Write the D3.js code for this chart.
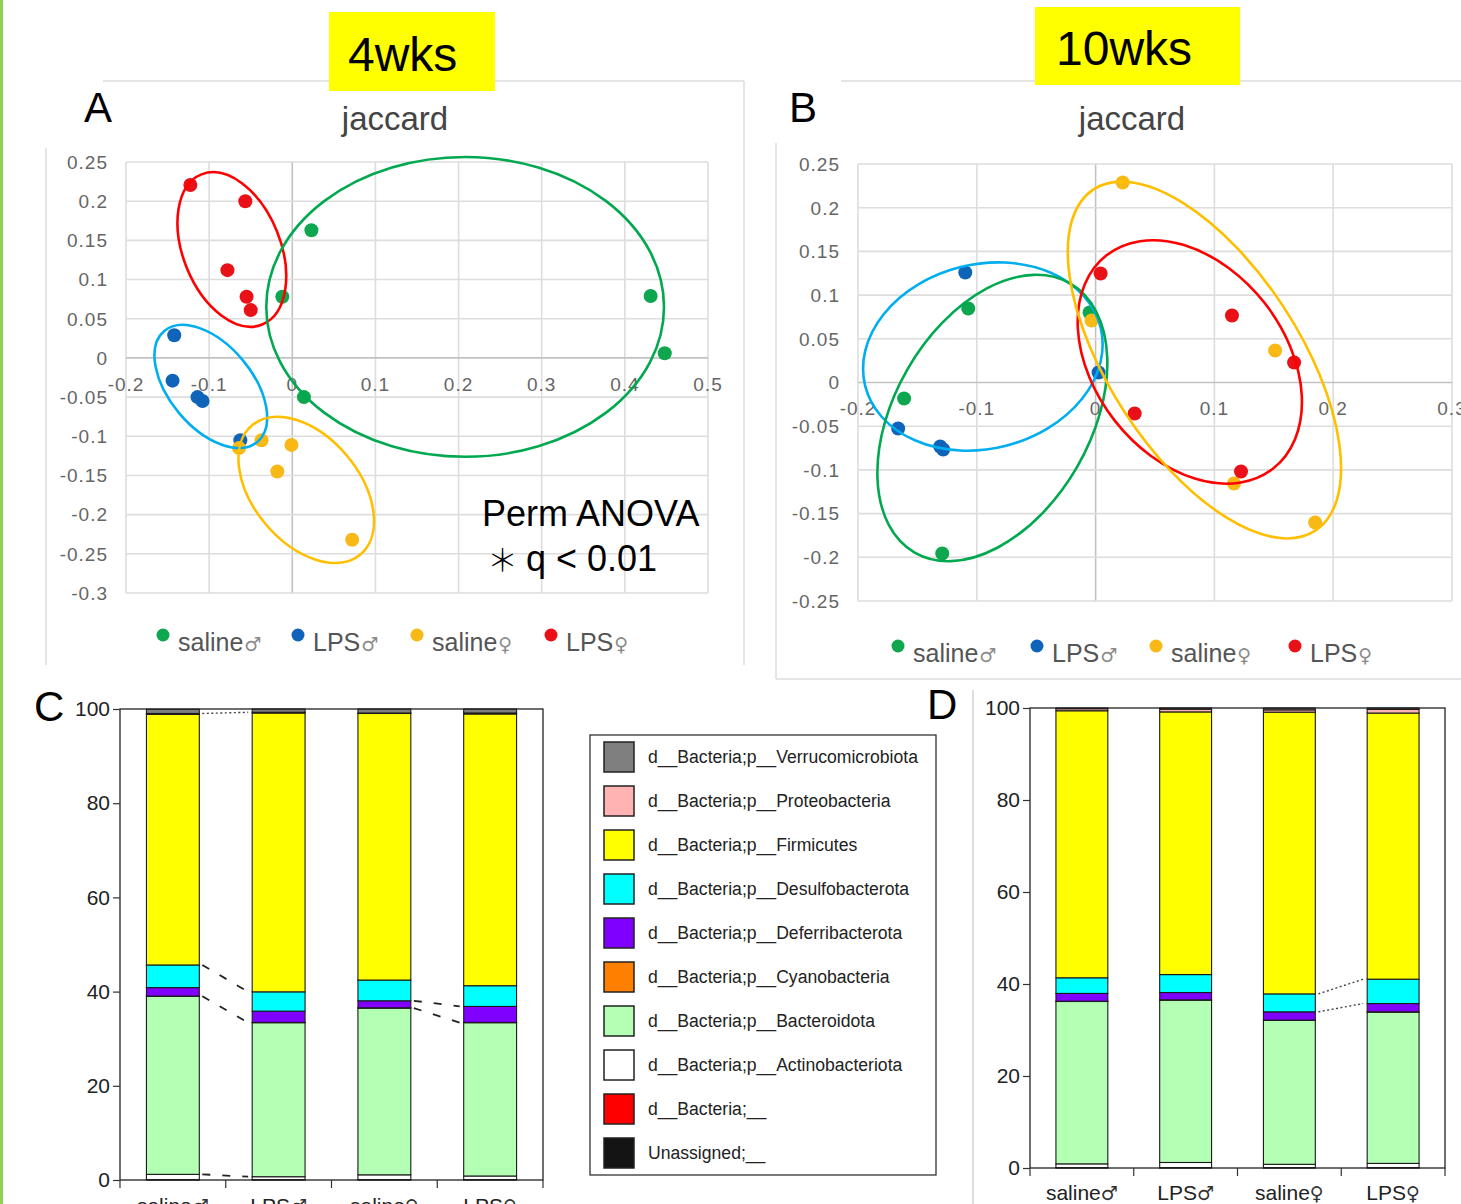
<!DOCTYPE html>
<html><head><meta charset="utf-8">
<script src="https://cdn.jsdelivr.net/npm/d3@7"></script>
<style>
body{margin:0;background:#fff;}
svg{display:block;font-family:"Liberation Sans",Arial,sans-serif;}
</style>
</head><body>
<svg id="fig" width="1461" height="1204"></svg>
<script>
// ================= DATA =================
const groups = ["saline♂", "LPS♂", "saline♀", "LPS♀"];
const groupNames = ["saline", "LPS", "saline", "LPS"];
const groupSymbols = ["♂", "♂", "♀", "♀"];

// PCoA (jaccard) 4 weeks: [PC1, PC2]
const wk4SalineM = [[0.023, 0.163], [-0.012, 0.078], [0.431, 0.079], [0.448, 0.006], [0.014, -0.050]];
const wk4LpsM    = [[-0.142, 0.029], [-0.144, -0.029], [-0.114, -0.050], [-0.108, -0.055], [-0.0625, -0.105]];
const wk4SalineF = [[-0.064, -0.115], [-0.037, -0.105], [-0.001, -0.111], [-0.018, -0.145], [0.072, -0.232]];
const wk4LpsF    = [[-0.1226, 0.2207], [-0.0565, 0.200], [-0.078, 0.112], [-0.055, 0.078], [-0.050, 0.061]];

// PCoA (jaccard) 10 weeks
const wk10SalineM = [[-0.1072, 0.0847], [-0.1612, -0.0183], [-0.1291, -0.1957], [-0.0051, 0.0801]];
const wk10LpsM    = [[-0.1097, 0.1259], [-0.1662, -0.0526], [-0.1308, -0.0732], [-0.1283, -0.0767], [0.0025, 0.0114]];
const wk10SalineF = [[0.0228, 0.2288], [-0.0034, 0.0709], [0.1511, 0.0366], [0.1165, -0.1156], [0.1848, -0.1602]];
const wk10LpsF    = [[0.0042, 0.1247], [0.1148, 0.0767], [0.1671, 0.0229], [0.0329, -0.0355], [0.1224, -0.1018]];

// hand-drawn group ellipses: group index, centre (data), semi-axes (x-data units), rotation (deg)
const wk4Ellipses = [
  {group: 3, cx: -0.0727, cy: 0.1384, a: 0.0974, b: 0.0585, angle: 68},
  {group: 0, cx: 0.2079, cy: 0.0651, a: 0.2392, b: 0.1803, angle: 0},
  {group: 1, cx: -0.0980, cy: -0.0364, a: 0.0871, b: 0.0498, angle: 50},
  {group: 2, cx: 0.0168, cy: -0.1684, a: 0.1014, b: 0.0639, angle: 50}
];
const wk10Ellipses = [
  {group: 1, cx: -0.0949, cy: 0.0297, a: 0.1021, b: 0.0776, angle: -14},
  {group: 0, cx: -0.0869, cy: -0.0406, a: 0.1308, b: 0.0824, angle: -60},
  {group: 3, cx: 0.0793, cy: 0.0235, a: 0.1139, b: 0.0802, angle: 52},
  {group: 2, cx: 0.0916, cy: 0.0257, a: 0.1713, b: 0.0802, angle: 57}
];

// scatter tick labels
const wk4XTicks = [-0.2, -0.1, 0, 0.1, 0.2, 0.3, 0.4, 0.5];
const wk4XTickLabels = ["-0.2", "-0.1", "0", "0.1", "0.2", "0.3", "0.4", "0.5"];
const wk4YTicks = [0.25, 0.2, 0.15, 0.1, 0.05, 0, -0.05, -0.1, -0.15, -0.2, -0.25, -0.3];
const wk4YTickLabels = ["0.25", "0.2", "0.15", "0.1", "0.05", "0", "-0.05", "-0.1", "-0.15", "-0.2", "-0.25", "-0.3"];
const wk10XTicks = [-0.2, -0.1, 0, 0.1, 0.2, 0.3];
const wk10XTickLabels = ["-0.2", "-0.1", "0", "0.1", "0.2", "0.3"];
const wk10YTicks = [0.25, 0.2, 0.15, 0.1, 0.05, 0, -0.05, -0.1, -0.15, -0.2, -0.25];
const wk10YTickLabels = ["0.25", "0.2", "0.15", "0.1", "0.05", "0", "-0.05", "-0.1", "-0.15", "-0.2", "-0.25"];

// Taxa (legend order, top to bottom)
const taxa = [
  "d__Bacteria;p__Verrucomicrobiota", "d__Bacteria;p__Proteobacteria", "d__Bacteria;p__Firmicutes",
  "d__Bacteria;p__Desulfobacterota", "d__Bacteria;p__Deferribacterota", "d__Bacteria;p__Cyanobacteria",
  "d__Bacteria;p__Bacteroidota", "d__Bacteria;p__Actinobacteriota", "d__Bacteria;__", "Unassigned;__"
];
// relative abundance (%) per taxon, per group — 4 weeks (C)
const wk4Verruco      = [0.9, 0.7, 0.85, 0.85];
const wk4Proteo       = [0.2, 0.15, 0.1, 0.2];
const wk4Firmicutes   = [53.2, 59.2, 56.6, 57.7];
const wk4Desulfo      = [4.8, 4.1, 4.4, 4.4];
const wk4Deferri      = [1.8, 2.4, 1.5, 3.4];
const wk4Cyano        = [0.05, 0.05, 0.05, 0.05];
const wk4Bacteroidota = [37.8, 32.7, 35.4, 32.55];
const wk4Actino       = [1.1, 0.6, 1.0, 0.75];
const wk4Bacteria     = [0.05, 0.05, 0.05, 0.05];
const wk4Unassigned   = [0.05, 0.05, 0.05, 0.05];
// 10 weeks (D)
const wk10Verruco      = [0.15, 0.25, 0.4, 0.3];
const wk10Proteo       = [0.45, 0.6, 0.5, 0.8];
const wk10Firmicutes   = [58.05, 57.1, 61.25, 57.85];
const wk10Desulfo      = [3.4, 3.9, 3.9, 5.3];
const wk10Deferri      = [1.7, 1.6, 1.8, 1.8];
const wk10Cyano        = [0.05, 0.05, 0.05, 0.05];
const wk10Bacteroidota = [35.3, 35.3, 31.3, 32.9];
const wk10Actino       = [0.8, 1.1, 0.7, 0.9];
const wk10Bacteria     = [0.05, 0.05, 0.05, 0.05];
const wk10Unassigned   = [0.05, 0.05, 0.05, 0.05];

const barTicks = [0, 20, 40, 60, 80, 100];

// connector lines between neighbouring bars (top of a taxon segment)
const wk4Links = [
  {from: 0, to: 1, taxon: "d__Bacteria;p__Proteobacteria", style: "dot"},
  {from: 0, to: 1, taxon: "d__Bacteria;p__Desulfobacterota", style: "dash"},
  {from: 0, to: 1, taxon: "d__Bacteria;p__Bacteroidota", style: "dash"},
  {from: 0, to: 1, taxon: "d__Bacteria;p__Actinobacteriota", style: "dash"},
  {from: 2, to: 3, taxon: "d__Bacteria;p__Deferribacterota", style: "dash"},
  {from: 2, to: 3, taxon: "d__Bacteria;p__Bacteroidota", style: "dash"}
];
const wk10Links = [
  {from: 2, to: 3, taxon: "d__Bacteria;p__Desulfobacterota", style: "dot"},
  {from: 2, to: 3, taxon: "d__Bacteria;p__Deferribacterota", style: "dot"}
];

// ================= STYLE =================
const dotColors = ["#0ea64e", "#0f64b9", "#f8b916", "#ea1017"];
const ringColors = ["#00a84f", "#00aeef", "#ffbf00", "#ff0000"];
const taxaColors = ["#7f7f7f", "#ffb3b3", "#ffff00", "#00ffff", "#7f00ff", "#ff8000", "#b3ffb3", "#ffffff", "#ff0000", "#141414"];
const symbolFont = "DejaVu Sans, sans-serif";

const svg = d3.select("#fig");
svg.append("rect").attr("width", 1461).attr("height", 1204).attr("fill", "#fff");
svg.append("rect").attr("x", 0).attr("y", 0).attr("width", 3).attr("height", 1204).attr("fill", "#92d050");

// ================= SCATTER =================
function scatter(o) {
  const g = svg.append("g");
  o.frame.forEach(f => g.append("line").attr("x1", f[0]).attr("y1", f[1]).attr("x2", f[2]).attr("y2", f[3])
    .attr("stroke", "#dcdcdc").attr("stroke-width", 1.5));
  const x = d3.scaleLinear().domain(o.xDomain).range(o.xRange);
  const y = d3.scaleLinear().domain(o.yDomain).range(o.yRange);
  const [x0, x1] = o.xRange, [y0, y1] = o.yRange;
  g.selectAll("line.gx").data(o.xTicks).join("line").attr("class", "gx")
    .attr("x1", d => x(d)).attr("x2", d => x(d)).attr("y1", y1).attr("y2", y0)
    .attr("stroke", d => d === 0 ? "#c2c2c2" : "#dddddd").attr("stroke-width", 1.6);
  g.selectAll("line.gy").data(o.yTicks).join("line").attr("class", "gy")
    .attr("x1", x0).attr("x2", x1).attr("y1", d => y(d)).attr("y2", d => y(d))
    .attr("stroke", d => d === 0 ? "#c2c2c2" : "#dddddd").attr("stroke-width", 1.6);
  g.selectAll("text.ly").data(o.yTicks).join("text").attr("class", "ly")
    .attr("x", x0 - 18).attr("y", d => y(d)).attr("dy", "0.36em").attr("text-anchor", "end")
    .attr("font-size", 19).attr("letter-spacing", 1).attr("fill", "#666").text((d, i) => o.yLabels[i]);
  g.selectAll("text.lx").data(o.xTicks).join("text").attr("class", "lx")
    .attr("x", d => x(d)).attr("y", y(0) + o.xLabelDy).attr("dy", "0.36em").attr("text-anchor", "middle")
    .attr("font-size", 19).attr("letter-spacing", 1).attr("fill", "#666").text((d, i) => o.xLabels[i]);
  o.series.forEach((s, si) => {
    g.selectAll(null).data(s).join("circle")
      .attr("cx", d => x(d[0])).attr("cy", d => y(d[1])).attr("r", 7).attr("fill", dotColors[si]);
  });
  const unit = x(1) - x(0);
  o.ellipses.forEach(e => {
    const cx = x(e.cx), cy = y(e.cy);
    g.append("ellipse").attr("cx", cx).attr("cy", cy).attr("rx", e.a * unit).attr("ry", e.b * unit)
      .attr("transform", `rotate(${e.angle},${cx},${cy})`)
      .attr("fill", "none").attr("stroke", ringColors[e.group]).attr("stroke-width", 2.6);
  });
  g.append("text").attr("x", o.titleX).attr("y", o.titleY).attr("text-anchor", "middle")
    .attr("font-size", 33).attr("fill", "#444").text("jaccard");
  groups.forEach((gr, i) => {
    g.append("circle").attr("cx", o.legendX[i]).attr("cy", o.legendY - 16).attr("r", 6.5).attr("fill", dotColors[i]);
    const t = g.append("text").attr("x", o.legendX[i] + 15).attr("y", o.legendY).attr("font-size", 25).attr("fill", "#555");
    t.append("tspan").text(groupNames[i]);
    t.append("tspan").attr("font-size", 19).attr("font-family", symbolFont).attr("fill", "#8a8a8a")
      .attr("dx", 1).text(groupSymbols[i]);
  });
  return {x, y};
}

scatter({
  frame: [[103, 81, 744, 81], [744, 81, 744, 665], [46, 148, 46, 665]],
  xDomain: [-0.2, 0.5], xRange: [126, 708], yDomain: [-0.3, 0.25], yRange: [593, 162],
  xTicks: wk4XTicks, xLabels: wk4XTickLabels, yTicks: wk4YTicks, yLabels: wk4YTickLabels, xLabelDy: 26,
  series: [wk4SalineM, wk4LpsM, wk4SalineF, wk4LpsF], ellipses: wk4Ellipses,
  titleX: 395, titleY: 130, legendX: [163, 298, 417, 551], legendY: 651
});
scatter({
  frame: [[841, 81, 1461, 81], [776, 143, 776, 679], [776, 679, 1461, 679]],
  xDomain: [-0.2, 0.3], xRange: [858, 1452], yDomain: [-0.25, 0.25], yRange: [601, 164],
  xTicks: wk10XTicks, xLabels: wk10XTickLabels, yTicks: wk10YTicks, yLabels: wk10YTickLabels, xLabelDy: 26,
  series: [wk10SalineM, wk10LpsM, wk10SalineF, wk10LpsF], ellipses: wk10Ellipses,
  titleX: 1132, titleY: 130, legendX: [898, 1037, 1156, 1295], legendY: 662
});

// header boxes and panel letters
svg.append("rect").attr("x", 329).attr("y", 12).attr("width", 166).attr("height", 79).attr("fill", "#ffff00");
svg.append("text").attr("x", 348).attr("y", 71).attr("font-size", 48).attr("fill", "#000").text("4wks");
svg.append("rect").attr("x", 1035).attr("y", 7).attr("width", 205).attr("height", 78).attr("fill", "#ffff00");
svg.append("text").attr("x", 1056).attr("y", 65).attr("font-size", 48).attr("fill", "#000").text("10wks");
[["A", 84, 122], ["B", 789, 122], ["C", 34, 721], ["D", 927, 719]].forEach(p =>
  svg.append("text").attr("x", p[1]).attr("y", p[2]).attr("font-size", 42).attr("fill", "#000").text(p[0]));
svg.append("text").attr("x", 482).attr("y", 526).attr("font-size", 36).attr("fill", "#000").text("Perm ANOVA");
const sig = svg.append("text").attr("x", 487).attr("y", 571).attr("font-size", 36).attr("fill", "#000");
sig.append("tspan").attr("font-family", "Noto Sans CJK JP, sans-serif").attr("font-size", 31).attr("font-weight", 300).text("＊");
sig.append("tspan").attr("dx", 8).text("q < 0.01");

// separator
svg.append("line").attr("x1", 973).attr("y1", 690).attr("x2", 973).attr("y2", 1204).attr("stroke", "#d4d4d4").attr("stroke-width", 1.5);

// ================= STACKED BARS =================
const stackOrder = taxa.slice().reverse();
function bars(o) {
  const g = svg.append("g");
  const x = d3.scaleBand().domain(groups).range(o.xRange).paddingInner(0.5).paddingOuter(0.25);
  const y = d3.scaleLinear().domain([0, 100]).range(o.yRange);
  const table = groups.map((gr, i) => {
    const r = {group: gr};
    taxa.forEach((t, k) => r[t] = o.values[k][i]);
    return r;
  });
  const series = d3.stack().keys(stackOrder)(table);
  const colorOf = t => taxaColors[taxa.indexOf(t)];
  series.forEach(s => {
    g.selectAll(null).data(s).join("rect")
      .attr("x", d => x(d.data.group)).attr("width", x.bandwidth())
      .attr("y", d => y(d[1])).attr("height", d => Math.max(0, y(d[0]) - y(d[1])))
      .attr("fill", colorOf(s.key)).attr("stroke", "#1a1a1a").attr("stroke-width", 1.1);
  });
  o.links.forEach(l => {
    const s = series.find(z => z.key === l.taxon);
    const v0 = s[l.from][1], v1 = s[l.to][1];
    g.append("line")
      .attr("x1", x(groups[l.from]) + x.bandwidth() + 3).attr("y1", y(v0))
      .attr("x2", x(groups[l.to]) - 4).attr("y2", y(v1))
      .attr("stroke", l.style === "dot" ? "#444" : "#222")
      .attr("stroke-width", l.style === "dot" ? 1.4 : 1.8)
      .attr("stroke-dasharray", l.style === "dot" ? "2,2.5" : "8,12");
  });
  g.append("rect").attr("x", o.xRange[0]).attr("y", o.yRange[1])
    .attr("width", o.xRange[1] - o.xRange[0]).attr("height", o.yRange[0] - o.yRange[1])
    .attr("fill", "none").attr("stroke", "#222").attr("stroke-width", 1.3);
  const ax = g.append("g").attr("transform", `translate(${o.xRange[0]},0)`)
    .call(d3.axisLeft(y).tickValues(barTicks).tickSize(7).tickPadding(3));
  ax.select(".domain").remove();
  ax.selectAll("line").attr("stroke", "#333").attr("stroke-width", 1.2);
  ax.selectAll("text").attr("font-size", 21).attr("fill", "#222").attr("font-family", "Liberation Sans, Arial, sans-serif");
  const bounds = d3.range(groups.length + 1).map(k => o.xRange[0] + k * x.step());
  g.selectAll(null).data(bounds).join("line")
    .attr("x1", d => d).attr("x2", d => d).attr("y1", o.yRange[0]).attr("y2", o.yRange[0] + 8)
    .attr("stroke", "#333").attr("stroke-width", 1.2);
  groups.forEach((gr, i) => {
    const t = g.append("text").attr("x", x(gr) + x.bandwidth() / 2).attr("y", o.labelY)
      .attr("text-anchor", "middle").attr("font-size", 21).attr("fill", "#222");
    t.append("tspan").text(groupNames[i]);
    t.append("tspan").attr("font-family", symbolFont).attr("font-size", 19).attr("fill", "#333").text(groupSymbols[i]);
  });
}

bars({
  xRange: [120, 543], yRange: [1180, 709], labelY: 1213, links: wk4Links,
  values: [wk4Verruco, wk4Proteo, wk4Firmicutes, wk4Desulfo, wk4Deferri, wk4Cyano, wk4Bacteroidota, wk4Actino, wk4Bacteria, wk4Unassigned]
});
bars({
  xRange: [1030, 1445], yRange: [1168, 708], labelY: 1200, links: wk10Links,
  values: [wk10Verruco, wk10Proteo, wk10Firmicutes, wk10Desulfo, wk10Deferri, wk10Cyano, wk10Bacteroidota, wk10Actino, wk10Bacteria, wk10Unassigned]
});

// ================= TAXA LEGEND =================
const lg = svg.append("g");
lg.append("rect").attr("x", 590).attr("y", 735).attr("width", 346).attr("height", 440)
  .attr("fill", "#fff").attr("stroke", "#333").attr("stroke-width", 1.3);
taxa.forEach((t, i) => {
  const cy = 757 + i * 44;
  lg.append("rect").attr("x", 604).attr("y", cy - 15).attr("width", 30).attr("height", 30)
    .attr("fill", taxaColors[i]).attr("stroke", "#222").attr("stroke-width", 1.5);
  lg.append("text").attr("x", 648).attr("y", cy).attr("dy", "0.35em").attr("font-size", 17.6)
    .attr("fill", "#222").text(t);
});
</script>
</body></html>
